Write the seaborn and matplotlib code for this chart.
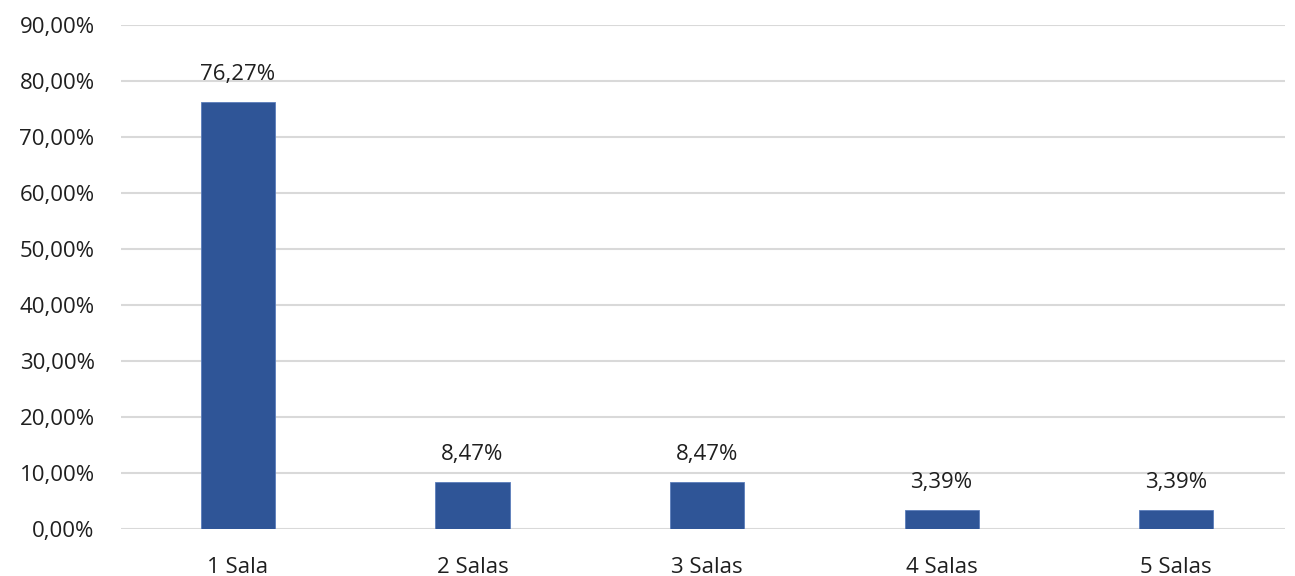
import matplotlib
matplotlib.use("Agg")
import matplotlib.pyplot as plt
import seaborn as sns
import pandas as pd

categories = ["1 Sala", "2 Salas", "3 Salas", "4 Salas", "5 Salas"]
values = [76.27, 8.47, 8.47, 3.39, 3.39]
y_ticks = [0, 10, 20, 30, 40, 50, 60, 70, 80, 90]

sns.set_theme(style="white")
plt.rcParams["font.family"] = ["Open Sans", "DejaVu Sans"]

df = pd.DataFrame({"cat": categories, "val": values})

fig = plt.figure(figsize=(12.95, 5.76), dpi=100)
ax = fig.add_axes([0.0934, 0.0816, 0.899, 0.875])

sns.barplot(data=df, x="cat", y="val", color="#2F5597", width=0.316,
            saturation=1, ax=ax, zorder=3, edgecolor="#5B7DBB", linewidth=0.6)

ax.set_ylim(0, 90)
ax.set_xlim(-0.499, 4.465)
ax.set_yticks(y_ticks)
ax.set_yticklabels([f"{t:.2f}".replace(".", ",") + "%" for t in y_ticks])
ax.yaxis.grid(True, color="#D9D9D9", linewidth=1.5, zorder=0)
ax.set_axisbelow(True)
for s in ax.spines.values():
    s.set_visible(False)
ax.tick_params(axis="y", length=0, pad=19, labelsize=16, labelcolor="#1F1F1F")
ax.tick_params(axis="x", length=0, pad=20, labelsize=16, labelcolor="#1F1F1F")
ax.set_xlabel("")
ax.set_ylabel("")

for container in ax.containers:
    ax.bar_label(container, labels=[f"{v:.2f}".replace(".", ",") + "%" for v in values],
                 padding=12, fontsize=16, color="#1F1F1F")

fig.savefig("out.png", dpi=100, facecolor="white")
